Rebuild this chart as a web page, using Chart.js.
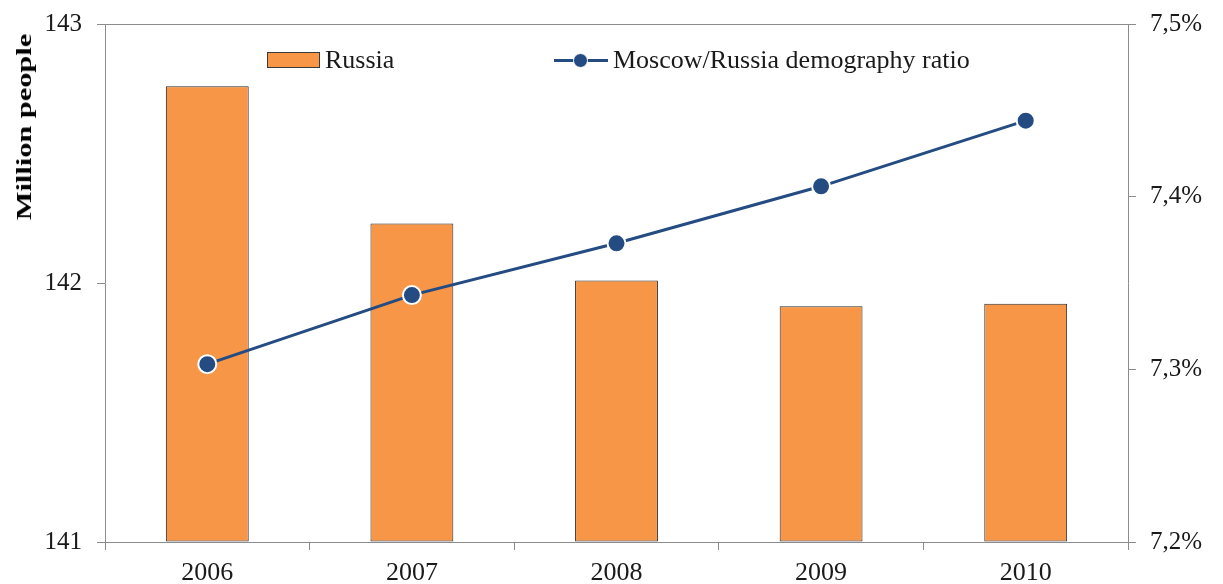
<!DOCTYPE html>
<html>
<head>
<meta charset="utf-8">
<script src="https://cdn.jsdelivr.net/npm/chart.js@4.4.1/dist/chart.umd.min.js"></script>
<style>
  html, body { margin: 0; padding: 0; background: #fff; }
  #wrap { position: relative; width: 1223px; height: 584px; }
  .item { position: absolute; top: 45px; display: flex; align-items: center; font-family: "Liberation Serif", serif; font-size: 26px; color: #1a1a1a; line-height: 30px; }
  .box { width: 51px; height: 14px; background: #F79646; border: 1px solid #3a3a3a; margin-right: 5px; }
  .lineSym { position: relative; width: 54px; height: 16px; margin-right: 5px; }
  .lineSym .ln { position: absolute; left: 0; right: 0; top: 7px; height: 3px; background: #244C82; }
  .lineSym .dot { position: absolute; left: 19px; top: 1px; width: 15px; height: 15px; border-radius: 50%; background: #244C82; border: 1px solid #fff; box-sizing: border-box; }
  #yTitle { position: absolute; left: 24px; top: 127px; white-space: nowrap; font-family: "Liberation Serif", serif; font-weight: bold; font-size: 22px; color: #000; line-height: 22px;
            transform: translate(-50%, -50%) rotate(-90deg) scaleX(1.38); }
</style>
</head>
<body>
<div id="wrap">
  <canvas id="chart" width="1223" height="584"></canvas>
  <div id="yTitle">Million people</div>
  <div class="item" style="left:267px"><div class="box"></div><span>Russia</span></div>
  <div class="item" style="left:554px"><div class="lineSym"><div class="ln"></div><div class="dot"></div></div><span>Moscow/Russia demography ratio</span></div>
</div>
<script>
const years = ['2006', '2007', '2008', '2009', '2010'];
// Russia population, million people
const russiaPopulation = [142.76, 142.23, 142.01, 141.91, 141.92];
// Moscow/Russia ratio, percent
const moscowRatio = [7.303, 7.343, 7.373, 7.406, 7.444];

const axisGray = '#8c8c8c';
const serif = '"Liberation Serif", "Times New Roman", serif';

const ctx = document.getElementById('chart').getContext('2d');
new Chart(ctx, {
    data: {
        labels: years,
        datasets: [
            {
                type: 'line',
                label: 'Moscow/Russia demography ratio',
                data: moscowRatio,
                yAxisID: 'yRight',
                borderColor: '#244C82',
                borderWidth: 3,
                pointRadius: 9,
                pointBackgroundColor: '#244C82',
                pointBorderColor: '#ffffff',
                pointBorderWidth: 2,
                tension: 0,
                order: 0
            },
            {
                type: 'bar',
                label: 'Russia',
                data: russiaPopulation,
                yAxisID: 'yLeft',
                backgroundColor: '#F79646',
                borderColor: '#2b2b2b',
                borderWidth: 1,
                borderSkipped: false,
                barPercentage: 0.405,
                categoryPercentage: 1,
                base: 141,
                order: 1
            }
        ]
    },
    options: {
        responsive: false,
        animation: false,
        layout: { padding: { top: 24, left: 0, right: 0, bottom: 0 } },
        plugins: {
            legend: { display: false },
            tooltip: { enabled: false }
        },
        scales: {
            x: {
                offset: true,
                grid: {
                    offset: true,
                    drawOnChartArea: false,
                    tickColor: axisGray,
                    tickLength: 8,
                    lineWidth: 1
                },
                border: { color: axisGray, width: 1 },
                ticks: {
                    color: '#1a1a1a',
                    font: { family: serif, size: 26 },
                    padding: 8
                },
                afterFit: s => { s.height = 42; s.paddingLeft = 0; s.paddingRight = 0; }
            },
            yLeft: {
                position: 'left',
                min: 141,
                max: 143,
                ticks: {
                    stepSize: 1,
                    color: '#1a1a1a',
                    font: { family: serif, size: 25 },
                    padding: 15
                },
                grid: {
                    color: c => (c.tick && c.tick.value === 143) ? axisGray : 'rgba(0,0,0,0)',
                    tickColor: axisGray,
                    tickLength: 8,
                    lineWidth: 1
                },
                border: { color: axisGray, width: 1 },
                afterFit: s => { s.width = 105; s.paddingTop = 0; s.paddingBottom = 0; }
            },
            yRight: {
                position: 'right',
                min: 7.2,
                max: 7.5,
                ticks: {
                    stepSize: 0.1,
                    color: '#1a1a1a',
                    font: { family: serif, size: 25 },
                    padding: 14,
                    callback: v => v.toFixed(1).replace('.', ',') + '%'
                },
                grid: {
                    drawOnChartArea: false,
                    tickColor: axisGray,
                    tickLength: 8,
                    lineWidth: 1
                },
                border: { color: axisGray, width: 1 },
                afterFit: s => { s.width = 95; s.paddingTop = 0; s.paddingBottom = 0; }
            }
        }
    }
});
</script>
</body>
</html>
